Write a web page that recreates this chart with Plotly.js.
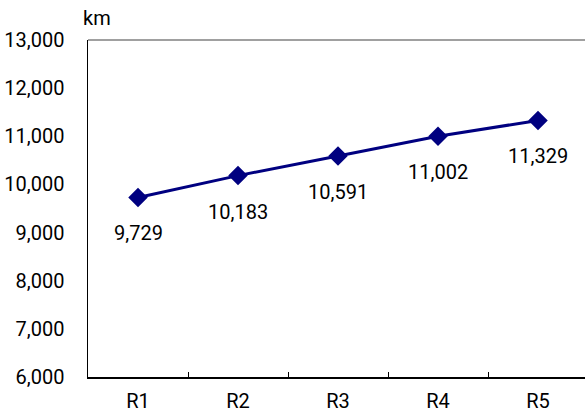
<!DOCTYPE html>
<html>
<head>
<meta charset="utf-8">
<script src="https://cdn.plot.ly/plotly-3.0.1.min.js"></script>
<style>html,body{margin:0;padding:0;background:#fff;}#chart{width:585px;height:416px;}</style>
</head>
<body>
<div id="chart"></div>
<script>
const categories = ["R1", "R2", "R3", "R4", "R5"];
const values = [9729, 10183, 10591, 11002, 11329];
const unitLabel = "km";

const FONT = "Roboto, 'Liberation Sans', sans-serif";
const NAVY = "#000080";

const trace = {
  type: "scatter",
  mode: "lines+markers",
  x: categories,
  y: values,
  line: {color: NAVY, width: 3},
  marker: {symbol: "diamond", size: 15, color: NAVY},
  hoverinfo: "skip",
  cliponaxis: false
};

const annotations = categories.map((c, i) => ({
  x: c, y: values[i], xref: "x", yref: "y",
  text: values[i].toLocaleString("en-US"),
  showarrow: false, yshift: -36,
  font: {family: FONT, size: 20, color: "#000"}
}));
annotations.push({
  x: (97 - 88) / 497, y: 1 + (40 - 18) / 337, xref: "paper", yref: "paper",
  xanchor: "center", yanchor: "middle",
  text: unitLabel, showarrow: false,
  font: {family: FONT, size: 20, color: "#000"}
});

const layout = {
  width: 585, height: 416,
  margin: {l: 88, r: 0, t: 40, b: 39, pad: 0},
  paper_bgcolor: "#fff", plot_bgcolor: "#fff",
  showlegend: false,
  font: {family: FONT, size: 20, color: "#000"},
  xaxis: {
    type: "category",
    range: [-0.5, 4.47],
    showgrid: false, zeroline: false,
    showline: true, linecolor: "#000", linewidth: 1.5,
    ticks: "inside", tickson: "boundaries", ticklen: 5, tickcolor: "#000", tickwidth: 1,
    tickfont: {family: FONT, size: 20, color: "#000"},
    ticklabelstandoff: 5
  },
  yaxis: {
    range: [6000, 13000], dtick: 1000, tick0: 6000,
    tickformat: ",",
    showgrid: false, zeroline: false,
    showline: true, linecolor: "#000", linewidth: 1.5,
    ticks: "",
    tickfont: {family: FONT, size: 20, color: "#000"},
    ticklabelstandoff: 18
  },
  shapes: [{
    type: "line", xref: "paper", yref: "paper",
    x0: 0, x1: 1, y0: 1, y1: 1,
    line: {color: "#808080", width: 1.5}
  }],
  annotations: annotations
};

Plotly.newPlot("chart", [trace], layout, {displayModeBar: false, staticPlot: true});
</script>
</body>
</html>
